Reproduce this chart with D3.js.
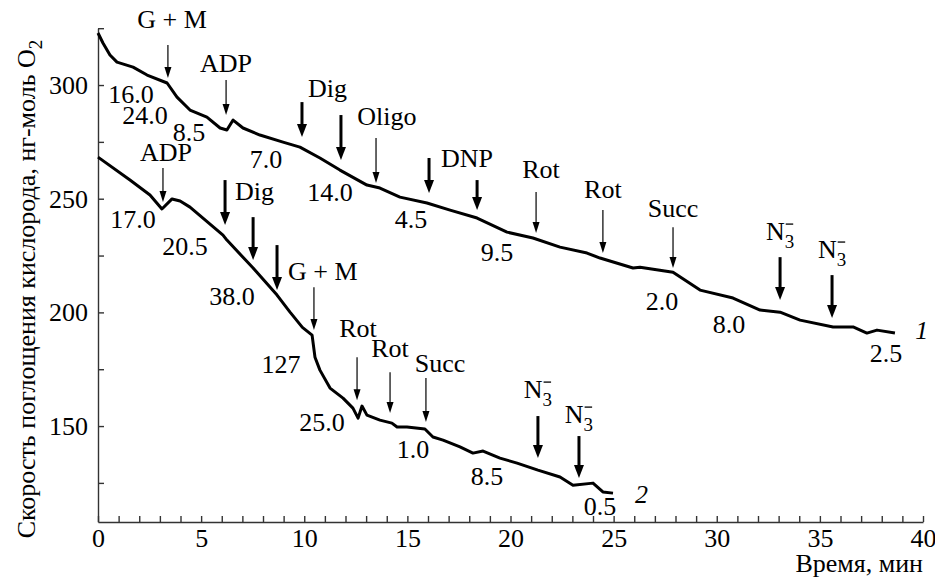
<!DOCTYPE html>
<html>
<head>
<meta charset="utf-8">
<script src="https://cdn.jsdelivr.net/npm/d3@7"></script>
<style>
  body { margin: 0; background: #fff; }
  svg text { font-family: "Liberation Serif"; }
</style>
</head>
<body>
<div id="chart"></div>
<script>
// кривая 1 (время, мин / скорость)
const time1 = [0, 0.24, 0.58, 0.92, 1.70, 2.38, 3.35, 3.83, 4.46, 5.28, 5.92, 6.25, 6.55, 7.03, 7.85, 8.97, 9.79,
  10.76, 11.73, 13.04, 13.67, 14.64, 15.95, 17.07, 18.38, 19.83, 21.09, 22.40, 23.71, 24.34, 25.94, 26.28, 27.88,
  29.19, 30.79, 32.10, 33.07, 34.04, 35.64, 36.61, 37.28, 37.77, 38.64];
const rate1 = [322.9, 318.5, 313.2, 310.1, 307.9, 304.4, 300.9, 294.7, 289.0, 285.9, 281.1, 280.2, 284.6, 281.1, 278.0, 274.9, 272.7,
  267.9, 262.6, 256.0, 254.7, 250.7, 248.1, 245.0, 241.5, 235.3, 232.7, 228.7, 226.1, 223.9, 219.5, 219.9, 217.7,
  209.8, 206.3, 201.0, 200.1, 196.6, 193.6, 193.6, 190.9, 192.2, 190.9];

// кривая 2
const time2 = [0, 1.55, 2.52, 3.10, 3.59, 3.98, 4.46, 6.06, 6.25, 7.52, 8.68, 9.31, 9.91, 10.38, 10.52, 10.76, 11.25, 11.88,
  12.36, 12.61, 12.80, 13.04, 13.67, 14.25, 14.50, 14.98, 15.85, 16.24, 16.73, 17.55, 18.18, 18.67, 19.49, 20.32,
  21.33, 22.40, 23.03, 24.00, 24.48, 24.97];
const rate2 = [268.3, 258.2, 251.6, 245.5, 249.9, 249.0, 246.3, 234.0, 231.8, 219.5, 207.6, 200.1, 193.4, 190.0, 180.3, 174.6, 166.7, 162.3,
  157.9, 153.5, 158.8, 154.8, 152.6, 151.3, 149.6, 149.6, 148.7, 145.2, 143.8, 140.8, 138.1, 139.0, 135.9, 133.7,
  130.6, 127.6, 124.0, 124.9, 121.0, 120.5];

const xMajor = [0, 5, 10, 15, 20, 25, 30, 35, 40];
const yMajor = [150, 200, 250, 300];

// добавки: время, стрелка (верх / низ), подпись
const marks1 = [
  { t: 3.39, top: 317.6, tip: 303.1, thick: false, label: "G + M", lt: 3.59, lv: 325.1, align: "middle" },
  { t: 6.21, top: 302.2, tip: 286.8, thick: false, label: "ADP", lt: 6.21, lv: 305.7, align: "middle" },
  { t: 9.89, top: 292.5, tip: 277.1, thick: true, label: "Dig", lt: 10.18, lv: 294.7, align: "start" },
  { t: 11.78, top: 286.8, tip: 267.0, thick: true },
  { t: 13.48, top: 276.7, tip: 256.9, thick: false, label: "Oligo", lt: 14.01, lv: 282.4, align: "middle" },
  { t: 16.05, top: 267.9, tip: 252.5, thick: true, label: "DNP", lt: 16.63, lv: 263.9, align: "start" },
  { t: 18.38, top: 258.2, tip: 245.0, thick: true },
  { t: 21.24, top: 252.9, tip: 234.9, thick: false, label: "Rot", lt: 21.48, lv: 259.1, align: "middle" },
  { t: 24.48, top: 245.0, tip: 226.1, thick: false, label: "Rot", lt: 24.48, lv: 250.3, align: "middle" },
  { t: 27.88, top: 237.5, tip: 219.5, thick: false, label: "Succ", lt: 27.88, lv: 241.9, align: "middle" },
  { t: 33.07, top: 224.3, tip: 205.4, thick: true, label: "N3", lt: 33.07, lv: 231.8, align: "middle" },
  { t: 35.59, top: 216.4, tip: 197.5, thick: true, label: "N3", lt: 35.59, lv: 223.9, align: "middle" }
];
const marks2 = [
  { t: 3.15, top: 263.5, tip: 248.5, thick: false, label: "ADP", lt: 3.30, lv: 266.6, align: "middle" },
  { t: 6.16, top: 258.2, tip: 238.4, thick: true, label: "Dig", lt: 6.64, lv: 249.4, align: "start" },
  { t: 7.52, top: 241.9, tip: 223.0, thick: true },
  { t: 8.68, top: 229.6, tip: 209.8, thick: true },
  { t: 10.47, top: 211.1, tip: 192.2, thick: false, label: "G + M", lt: 9.21, lv: 214.2, align: "start" },
  { t: 12.56, top: 180.3, tip: 161.4, thick: false, label: "Rot", lt: 12.61, lv: 189.1, align: "middle" },
  { t: 14.16, top: 173.7, tip: 155.7, thick: false, label: "Rot", lt: 14.16, lv: 180.3, align: "middle" },
  { t: 15.90, top: 171.1, tip: 151.8, thick: false, label: "Succ", lt: 16.58, lv: 173.7, align: "middle" },
  { t: 21.33, top: 154.4, tip: 135.9, thick: true, label: "N3", lt: 21.33, lv: 162.3, align: "middle" },
  { t: 23.32, top: 145.6, tip: 127.1, thick: true, label: "N3", lt: 23.32, lv: 151.3, align: "middle" }
];

// скорости дыхания на участках
const rates1 = [
  { t: 1.60, v: 292.1, text: "16.0" }, { t: 2.28, v: 282.8, text: "24.0" }, { t: 4.41, v: 275.4, text: "8.5" },
  { t: 8.15, v: 263.5, text: "7.0" }, { t: 11.25, v: 249.0, text: "14.0" }, { t: 15.18, v: 237.1, text: "4.5" },
  { t: 19.35, v: 222.6, text: "9.5" }, { t: 27.35, v: 201.0, text: "2.0" }, { t: 30.59, v: 190.9, text: "8.0" },
  { t: 38.21, v: 178.1, text: "2.5" }
];
const rates2 = [
  { t: 1.70, v: 237.1, text: "17.0" }, { t: 4.22, v: 225.2, text: "20.5" }, { t: 6.50, v: 203.2, text: "38.0" },
  { t: 8.87, v: 173.3, text: "127" }, { t: 10.86, v: 147.8, text: "25.0" }, { t: 15.27, v: 135.9, text: "1.0" },
  { t: 18.86, v: 124.0, text: "8.5" }, { t: 24.34, v: 110.8, text: "0.5" }
];
const curveNames = [{ t: 39.62, v: 188.3, text: "1" }, { t: 26.04, v: 116.1, text: "2" }];

const width = 935, height = 580;
const FONT = "Liberation Serif";
const FS = 26;

const svg = d3.select("#chart").append("svg")
  .attr("width", width)
  .attr("height", height);

const x = d3.scaleLinear().domain([0, 40]).range([98, 923]);
const y = d3.scaleLinear().domain([107.8, 325]).range([522, 28.2]);

// оси
const xAxis = svg.append("g")
  .attr("transform", `translate(0,${y(107.8)})`)
  .call(d3.axisBottom(x)
    .tickValues(d3.range(0, 41, 1))
    .tickSizeInner(-6).tickSizeOuter(0).tickPadding(7)
    .tickFormat(d => xMajor.includes(d) ? d : ""));

const yAxis = svg.append("g")
  .attr("transform", `translate(${x(0)},0)`)
  .call(d3.axisLeft(y)
    .tickValues(d3.range(125, 326, 25))
    .tickSizeInner(-6).tickSizeOuter(0).tickPadding(10)
    .tickFormat(d => yMajor.includes(d) ? d : ""));

[xAxis, yAxis].forEach(a => {
  a.attr("font-family", FONT).attr("font-size", FS);
  a.selectAll("path, line").attr("stroke", "#333").attr("stroke-width", 1.4);
  a.selectAll("text").attr("fill", "#000").attr("font-family", FONT);
});

// подписи осей
svg.append("text")
  .attr("x", x(40))
  .attr("y", 572)
  .attr("text-anchor", "end")
  .attr("font-family", FONT)
  .style("font-size", FS + "px")
  .text("Время, мин");

const yl = svg.append("text")
  .attr("transform", `translate(35,${289}) rotate(-90)`)
  .attr("text-anchor", "middle")
  .attr("font-family", FONT)
  .style("font-size", FS + "px");
yl.append("tspan").text("Скорость поглощения кислорода, нг-моль O");
yl.append("tspan").attr("dy", 7).style("font-size", "19px").text("2");

// кривые
const line = d3.line().x(d => x(d[0])).y(d => y(d[1]));
[[time1, rate1], [time2, rate2]].forEach(([ts, vs]) => {
  svg.append("path")
    .datum(ts.map((t, i) => [t, vs[i]]))
    .attr("fill", "none")
    .attr("stroke", "#000")
    .attr("stroke-width", 3)
    .attr("stroke-linejoin", "round")
    .attr("d", line);
});

// стрелки
function drawArrow(m) {
  const px = x(m.t), y0 = y(m.top), y1 = y(m.tip);
  const hl = m.thick ? 13 : 11, hw = m.thick ? 5 : 3.5;
  svg.append("line")
    .attr("x1", px).attr("x2", px)
    .attr("y1", y0).attr("y2", y1 - hl + 1)
    .attr("stroke", "#000")
    .attr("stroke-width", m.thick ? 3 : 1.2);
  svg.append("path")
    .attr("d", `M${px - hw},${y1 - hl}L${px + hw},${y1 - hl}L${px},${y1}Z`)
    .attr("fill", "#000");
}

function drawAzide(cx, by) {
  const g = svg.append("g").attr("font-family", FONT);
  const n = g.append("text").attr("y", by).style("font-size", FS + "px").text("N");
  const three = g.append("text").attr("y", by + 8).style("font-size", "19px").text("3");
  const wn = n.node().getComputedTextLength();
  const w3 = three.node().getComputedTextLength();
  const x0 = cx - (wn + w3) / 2;
  n.attr("x", x0);
  three.attr("x", x0 + wn);
  g.append("line")
    .attr("x1", x0 + wn + 1).attr("x2", x0 + wn + w3 - 1)
    .attr("y1", by - 16).attr("y2", by - 16)
    .attr("stroke", "#000").attr("stroke-width", 1.3);
}

[...marks1, ...marks2].forEach(m => {
  drawArrow(m);
  if (!m.label) return;
  if (m.label === "N3") {
    drawAzide(x(m.lt), y(m.lv));
  } else {
    svg.append("text")
      .attr("x", x(m.lt))
      .attr("y", y(m.lv))
      .attr("text-anchor", m.align)
      .attr("font-family", FONT)
      .style("font-size", FS + "px")
      .text(m.label);
  }
});

// числовые подписи
[...rates1, ...rates2].forEach(r => {
  svg.append("text")
    .attr("x", x(r.t))
    .attr("y", y(r.v))
    .attr("text-anchor", "middle")
    .attr("font-family", FONT)
    .style("font-size", FS + "px")
    .text(r.text);
});

curveNames.forEach(c => {
  svg.append("text")
    .attr("x", x(c.t))
    .attr("y", y(c.v))
    .attr("font-family", FONT)
    .style("font-size", FS + "px")
    .style("font-style", "italic")
    .text(c.text);
});
</script>
</body>
</html>
